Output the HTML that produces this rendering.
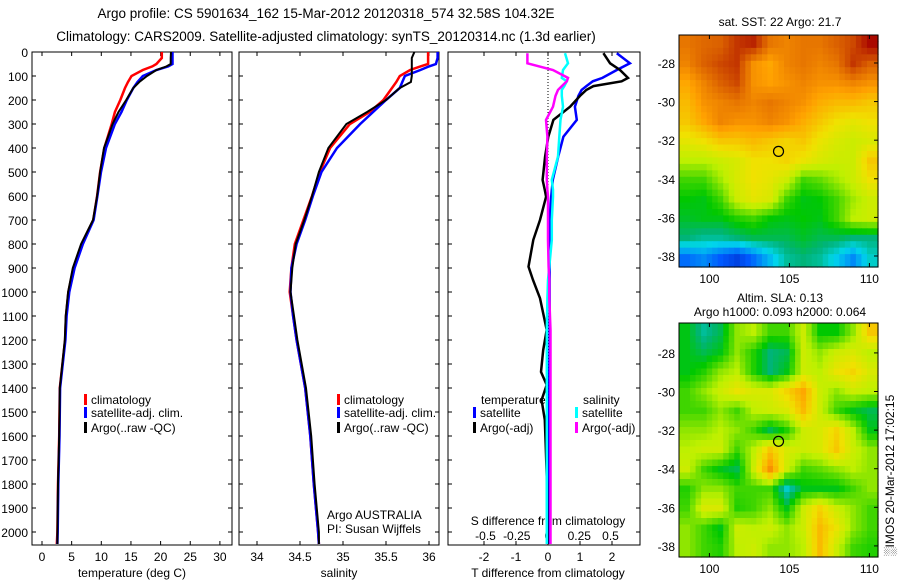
<!DOCTYPE html>
<html><head><meta charset="utf-8"><style>
body{margin:0;background:#fff;}
svg{display:block;font-family:"Liberation Sans",sans-serif;font-size:12px;}
</style></head><body>
<svg id="c" width="900" height="580" xmlns="http://www.w3.org/2000/svg">
<text x="326" y="18" text-anchor="middle" font-size="13.5">Argo profile: CS 5901634_162 15-Mar-2012 20120318_574 32.58S 104.32E</text>
<text x="326" y="41" text-anchor="middle" font-size="13.5">Climatology: CARS2009. Satellite-adjusted climatology: synTS_20120314.nc (1.3d earlier)</text>
<g id="g"></g>
</svg>
<script>
// ---- data ----
const depths=[0,25,50,60,75,100,125,150,200,250,300,400,500,600,700,800,900,1000,1100,1200,1400,1600,1800,2000,2050];
const tClim=[20.2,20.2,19.3,18.6,17,15.1,14.5,14,13.2,12.3,11.75,10.5,9.8,9.3,8.65,6.7,5.3,4.45,4.05,3.9,3.0,2.9,2.7,2.6,2.5];
const tSat=[22,22,22,21.3,19.3,17,16.1,15.4,14.3,13.4,12.3,10.8,9.95,9.35,8.7,6.9,5.5,4.6,4.15,3.95,3.05,2.95,2.75,2.65,2.6];
const tArgo=[21.75,21.7,21.7,21.0,19.3,17.7,16.4,15.4,14.2,12.9,11.9,10.45,9.8,9.3,8.6,6.6,5.2,4.4,4.0,3.85,3.0,2.9,2.7,2.6,2.6];
const sClim=[35.99,35.99,35.99,35.9,35.78,35.66,35.62,35.57,35.47,35.31,35.08,34.85,34.73,34.64,34.54,34.44,34.40,34.38,34.42,34.46,34.56,34.62,34.66,34.71,34.72];
const sSat=[36.1,36.1,36.08,36.0,35.9,35.72,35.69,35.66,35.5,35.35,35.2,34.93,34.75,34.65,34.56,34.46,34.40,34.39,34.42,34.46,34.56,34.62,34.66,34.71,34.72];
const sArgo=[35.83,35.8,35.8,35.8,35.8,35.8,35.79,35.66,35.5,35.28,35.04,34.83,34.72,34.64,34.55,34.45,34.41,34.39,34.43,34.47,34.57,34.63,34.67,34.72,34.72];
const dDepths=[5,47,75,108,122,142,158,183,228,283,353,436,533,575,603,700,783,894,950,1026,1158,1242,1333,1387,1450,1533,1650,1800,2050];
const dtSat=[2.15,2.56,2.15,1.7,1.4,1.2,1.05,0.95,0.84,0.9,0.48,0.32,0.15,0.12,0.1,0.05,0.05,0.05,0.05,0.05,0.05,0.05,0.04,0.04,0.04,0.03,0.03,0.03,0.03];
const dtArgo=[1.73,1.94,2.25,2.5,2.3,1.42,1.2,1.0,0.69,0.17,0.01,-0.09,-0.17,-0.1,-0.06,-0.25,-0.46,-0.61,-0.47,-0.25,-0.04,-0.15,-0.22,-0.04,-0.2,-0.1,-0.07,-0.03,-0.02];
const dsSat=[0.136,0.16,0.12,0.11,0.15,0.13,0.11,0.11,0.12,0.1,0.09,0.08,0.03,0.04,0.04,0.03,0.03,0.01,0.0,-0.005,-0.01,-0.01,-0.01,-0.01,-0.01,-0.01,-0.01,-0.01,-0.01];
const dsArgo=[-0.165,-0.165,0.04,0.16,0.15,0.11,0.08,0.06,0.04,-0.016,-0.005,-0.01,-0.01,-0.005,0.0,0.0,0.0,0.005,0.01,0.01,0.02,0.02,0.02,0.02,0.02,0.02,0.02,0.02,0.02];
const depthTicks=[0,100,200,300,400,500,600,700,800,900,1000,1100,1200,1300,1400,1500,1600,1700,1800,1900,2000];
const tTicks=[0,5,10,15,20,25,30];
const sTicks=[34,34.5,35,35.5,36];
const sTickLabels=["34","34.5","35","35.5","36"];
const dtTicks=[-2,-1,0,1,2];
const dsTicks=[-0.5,-0.25,0,0.25,0.5];
const dsTickLabels=["-0.5","-0.25","0","0.25","0.5"];
const sstGrid=[
[0.82,0.84,0.85,0.9,0.92,0.82,0.8,0.82,0.82,0.85,0.88,0.95],
[0.8,0.85,0.88,0.9,0.78,0.75,0.8,0.82,0.8,0.82,0.9,0.85],
[0.75,0.8,0.85,0.88,0.78,0.76,0.78,0.8,0.78,0.78,0.8,0.78],
[0.72,0.78,0.8,0.82,0.8,0.82,0.8,0.78,0.74,0.72,0.72,0.7],
[0.7,0.75,0.8,0.78,0.78,0.8,0.78,0.74,0.7,0.66,0.64,0.66],
[0.64,0.66,0.7,0.7,0.72,0.7,0.68,0.7,0.65,0.62,0.6,0.62],
[0.58,0.58,0.6,0.62,0.66,0.66,0.68,0.65,0.62,0.6,0.6,0.7],
[0.5,0.5,0.56,0.62,0.66,0.64,0.6,0.5,0.52,0.56,0.6,0.66],
[0.46,0.45,0.5,0.6,0.64,0.62,0.5,0.45,0.46,0.5,0.56,0.6],
[0.44,0.45,0.45,0.48,0.5,0.46,0.45,0.46,0.45,0.5,0.58,0.6],
[0.4,0.38,0.38,0.4,0.42,0.42,0.42,0.44,0.42,0.42,0.4,0.4],
[0.22,0.25,0.2,0.15,0.22,0.3,0.38,0.4,0.38,0.32,0.25,0.35]];
const slaGrid=[
[0.45,0.38,0.42,0.55,0.58,0.5,0.5,0.6,0.46,0.46,0.55,0.7],
[0.45,0.42,0.45,0.55,0.48,0.4,0.42,0.6,0.55,0.6,0.62,0.58],
[0.45,0.48,0.55,0.58,0.48,0.4,0.45,0.6,0.58,0.65,0.68,0.62],
[0.5,0.55,0.6,0.65,0.62,0.62,0.68,0.75,0.6,0.55,0.6,0.58],
[0.5,0.5,0.55,0.5,0.58,0.6,0.62,0.72,0.6,0.5,0.45,0.42],
[0.55,0.55,0.58,0.55,0.5,0.42,0.48,0.6,0.62,0.68,0.58,0.45],
[0.58,0.6,0.6,0.5,0.58,0.7,0.62,0.6,0.62,0.7,0.6,0.55],
[0.6,0.5,0.45,0.42,0.6,0.78,0.6,0.5,0.52,0.55,0.58,0.55],
[0.48,0.55,0.55,0.5,0.5,0.5,0.35,0.45,0.45,0.45,0.5,0.55],
[0.5,0.62,0.62,0.48,0.5,0.55,0.45,0.6,0.68,0.6,0.55,0.5],
[0.55,0.5,0.45,0.6,0.58,0.6,0.55,0.6,0.72,0.65,0.55,0.5],
[0.55,0.5,0.48,0.58,0.6,0.55,0.55,0.58,0.72,0.6,0.5,0.48]];
const lonTicks=[100,105,110];
const latTicks=[-28,-30,-32,-34,-36,-38];
const argoLon=104.32, argoLat=-32.58;

// ---- helpers ----
const NS="http://www.w3.org/2000/svg";
const G=document.getElementById('g');
function mk(tag,at,parent){const e=document.createElementNS(NS,tag);for(const k in at)e.setAttribute(k,at[k]);(parent||G).appendChild(e);return e;}
const TOP=52,BOT=545;
const yD=d=>TOP+d*0.24;
const P1={l:32,r:232}, P2={l:239,r:439}, P3={l:448,r:640};
const xT=t=>42+5.93*t;
const xS=s=>257+86*(s-34);
const xDT=v=>548+32*v;
const xDS=v=>548+125*v;

function frame(P,name){
  const r=mk('rect',{x:P.l,y:TOP,width:P.r-P.l,height:BOT-TOP,fill:'none',stroke:'#000','stroke-width':1});
  
  
  const cp=mk('clipPath',{id:'cl'+name});
  mk('rect',{x:P.l,y:TOP,width:P.r-P.l,height:BOT-TOP},cp);
  depthTicks.forEach(d=>{const y=yD(d);
    mk('line',{x1:P.l,x2:P.l+4,y1:y,y2:y,stroke:'#000'});
    mk('line',{x1:P.r,x2:P.r-4,y1:y,y2:y,stroke:'#000'});});
}
function xticks(P,ticks,f,labels,name,ly){
  ticks.forEach((t,i)=>{const x=f(t);
    mk('line',{x1:x,x2:x,y1:BOT,y2:BOT-4,stroke:'#000'});
    mk('line',{x1:x,x2:x,y1:TOP,y2:TOP+4,stroke:'#000'});
    const tx=mk('text',{x:x,y:ly||561,'text-anchor':'middle'});tx.textContent=labels?labels[i]:t;
    
    });
}
function line(xs,ds,fx,color,w,name,P){
  const pts=xs.map((v,i)=>fx(v).toFixed(1)+','+yD(ds[i]).toFixed(1)).join(' ');
  const pl=mk('polyline',{points:pts,fill:'none',stroke:color,'stroke-width':w,'clip-path':'url(#cl'+P+')'});
  
  
}
function label(x,y,t,name,anchor){const e=mk('text',{x:x,y:y,'text-anchor':anchor||'start'});e.textContent=t;
  
  return e;}
function legend(x,y,color,t,name){mk('rect',{x:x,y:y-10,width:3,height:11,fill:color});label(x+7,y,t,name);}

// panel 1
frame(P1,'temperature-panel');
depthTicks.forEach(d=>label(28,yD(d)+5,String(d),'depth-tick-label','end'));
xticks(P1,tTicks,xT,null,'temperature');
line(tClim,depths,xT,'#f00',2.5,'temp-climatology-line','temperature-panel');
line(tSat,depths,xT,'#00f',2.5,'temp-satellite-line','temperature-panel');
line(tArgo,depths,xT,'#000',2,'temp-argo-line','temperature-panel');
label(132,577,'temperature (deg C)','temperature-axis-title','middle');
legend(84,404,'#f00','climatology','legend-climatology');
legend(84,417,'#00f','satellite-adj. clim.','legend-satellite');
legend(84,432,'#000','Argo(..raw -QC)','legend-argo');

// panel 2
frame(P2,'salinity-panel');
xticks(P2,sTicks,xS,sTickLabels,'salinity');
line(sClim,depths,xS,'#f00',2.5,'sal-climatology-line','salinity-panel');
line(sSat,depths,xS,'#00f',2.5,'sal-satellite-line','salinity-panel');
line(sArgo,depths,xS,'#000',2,'sal-argo-line','salinity-panel');
label(339,577,'salinity','salinity-axis-title','middle');
legend(337,404,'#f00','climatology','legend-climatology-2');
legend(337,417,'#00f','satellite-adj. clim.','legend-satellite-2');
legend(337,432,'#000','Argo(..raw -QC)','legend-argo-2');
label(327,519,'Argo AUSTRALIA','agency-label');
label(327,533,'PI: Susan Wijffels','pi-label');

// panel 3
frame(P3,'difference-panel');
mk('line',{x1:548,x2:548,y1:TOP,y2:BOT,stroke:'#000','stroke-dasharray':'1,2'});
xticks(P3,dtTicks,xDT,null,'t-diff');
dsTicks.forEach((t,i)=>{label(xDS(t),540,dsTickLabels[i],'s-diff-tick-label','middle');});
label(548,525,'S difference from climatology','s-diff-axis-title','middle');
label(548,577,'T difference from climatology','t-diff-axis-title','middle');
line(dtSat,dDepths,xDT,'#00f',2.5,'tdiff-satellite-line','difference-panel');
line(dtArgo,dDepths,xDT,'#000',2.5,'tdiff-argo-line','difference-panel');
line(dsSat,dDepths,xDS,'#0ff',2.5,'sdiff-satellite-line','difference-panel');
line(dsArgo,dDepths,xDS,'#f0f',2.5,'sdiff-argo-line','difference-panel');
label(481,404,'temperature','legend-temperature-heading');
label(583,404,'salinity','legend-salinity-heading');
legend(473,417,'#00f','satellite','legend-t-satellite');
legend(473,432,'#000','Argo(-adj)','legend-t-argo');
legend(575,417,'#0ff','satellite','legend-s-satellite');
legend(575,432,'#f0f','Argo(-adj)','legend-s-argo');

// colormap
const cstops=[[0,0,0,140],[0.2,0,90,255],[0.33,0,215,235],[0.4,0,180,120],[0.46,0,200,0],[0.58,190,240,0],[0.66,240,225,0],[0.76,255,160,0],[0.86,215,90,0],[0.96,165,0,0],[1,150,0,0]];
function cmap(v){v=Math.max(0,Math.min(1,v));
  for(let k=1;k<cstops.length;k++){const a=cstops[k-1],b=cstops[k];
    if(v<=b[0]){const f=(v-a[0])/(b[0]-a[0]);
      return 'rgb('+[1,2,3].map(i=>Math.round(a[i]+(b[i]-a[i])*f)).join(',')+')';}}
  return 'rgb(150,0,0)';}
function sample(grid,r,c){const R=grid.length,C=grid[0].length;
  r=Math.max(0,Math.min(R-1,r));c=Math.max(0,Math.min(C-1,c));
  const r0=Math.floor(r),c0=Math.floor(c),r1=Math.min(R-1,r0+1),c1=Math.min(C-1,c0+1),fr=r-r0,fc=c-c0;
  return grid[r0][c0]*(1-fr)*(1-fc)+grid[r0][c1]*(1-fr)*fc+grid[r1][c0]*fr*(1-fc)+grid[r1][c1]*fr*fc;}

function map(M,grid,name){
  const lx=v=>M.x0+(v-M.lon0)*16, ly=v=>M.y0+(M.lat0-v)*M.sy;
  const rows=grid.length,cols=grid[0].length,U=3,cw=(M.x1-M.x0)/(cols*U),ch=(M.y1-M.y0)/(rows*U);
  for(let i=0;i<rows*U;i++)for(let j=0;j<cols*U;j++){
    const v=sample(grid,(i+0.5)/U-0.5,(j+0.5)/U-0.5);
    const c=mk('rect',{x:(M.x0+j*cw).toFixed(2),y:(M.y0+i*ch).toFixed(2),width:(cw+0.6).toFixed(2),height:(ch+0.6).toFixed(2),fill:cmap(v)});
    
    }
  const f=mk('rect',{x:M.x0,y:M.y0,width:M.x1-M.x0,height:M.y1-M.y0,fill:'none',stroke:'#000'});
  
  
  lonTicks.forEach(t=>{const x=lx(t);mk('line',{x1:x,x2:x,y1:M.y0,y2:M.y0+4,stroke:'#000'});mk('line',{x1:x,x2:x,y1:M.y1,y2:M.y1-4,stroke:'#000'});
    label(x,M.y1+16,String(t),name+'-lon-label','middle');});
  latTicks.forEach(t=>{const y=ly(t);mk('line',{x1:M.x1,x2:M.x1-4,y1:y,y2:y,stroke:'#000'});
    label(M.x0-4,y+5,String(t),name+'-lat-label','end');});
  const m=mk('circle',{cx:lx(argoLon),cy:ly(argoLat),r:5,fill:'none',stroke:'#000','stroke-width':1.2});
  
  
}
map({x0:679,x1:878,y0:35,y1:267,lon0:98.1,lat0:-26.55,sy:19.3},sstGrid,'sst-map');
label(780,26,'sat. SST: 22 Argo: 21.7','sst-map-title','middle');
map({x0:679,x1:878,y0:323,y1:557,lon0:98.1,lat0:-26.45,sy:19.3},slaGrid,'sla-map');
label(780,302,'Altim. SLA: 0.13','sla-map-title','middle');
label(780,316,'Argo h1000: 0.093 h2000: 0.064','sla-map-subtitle','middle');
const im=label(0,0,'\u2591IMOS 20-Mar-2012 17:02:15','imos-timestamp','start');
im.setAttribute('transform','translate(894,556) rotate(-90)');
</script>
</body></html>
